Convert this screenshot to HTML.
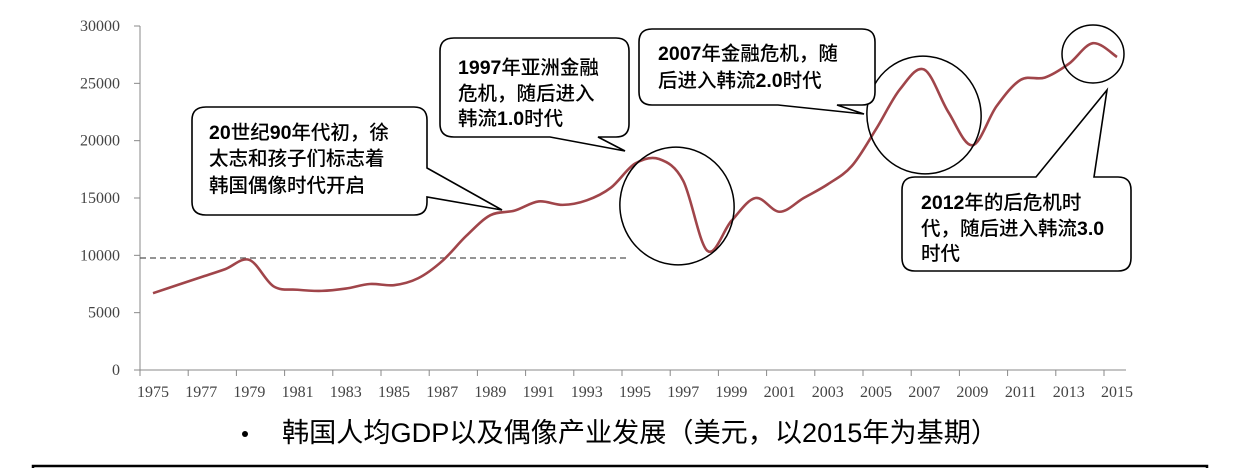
<!DOCTYPE html>
<html><head><meta charset="utf-8"><style>
html,body{margin:0;padding:0;background:#fff;width:1250px;height:468px;overflow:hidden}
svg{display:block}
.ax{font-family:"Liberation Serif",serif;font-size:16px;fill:#444}
.cb{font-family:"Liberation Sans","Noto Sans CJK SC",sans-serif;font-size:19.5px;font-weight:500;fill:#000}
.cb tspan{font-weight:bold}
</style></head><body>
<svg id="s" width="1250" height="468" viewBox="0 0 1250 468" xmlns="http://www.w3.org/2000/svg">
<g stroke="#888" stroke-width="1" fill="none">
<line x1="140" y1="26" x2="140" y2="370"/>
<line x1="140" y1="370" x2="1126" y2="370"/>
</g>
<g id="ticks" stroke="#888" stroke-width="1"></g>
<g class="ax" text-anchor="end" id="ylab"></g>
<g class="ax" text-anchor="middle" id="xlab"></g>
<line x1="140" y1="258" x2="630" y2="258" stroke="#555" stroke-width="1.2" stroke-dasharray="6,4"/>
<path id="line" fill="none" stroke="#A0454A" stroke-width="2.6"/>
<g fill="none" stroke="#000" stroke-width="1.5">
<ellipse cx="677" cy="206" rx="57" ry="59" transform="rotate(-15 677 206)"/>
<ellipse cx="924" cy="115" rx="57" ry="59" transform="rotate(-15 924 115)"/>
<ellipse cx="1093" cy="54" rx="31" ry="29"/>
</g>
<g fill="#fff" stroke="#000" stroke-width="1.6">
<path d="M206,107 H414 Q427,107 427,120 V168 L502,210 L427,197 V202 Q427,215 414,215 H206 Q192,215 192,202 V120 Q192,107 206,107 Z"/>
<path d="M454,38 H616 Q629,38 629,51 V124 Q629,137 616,137 H598 L625,151 L550,137 H454 Q440,137 440,124 V51 Q440,38 454,38 Z"/>
<path d="M652,29 H862 Q875,29 875,42 V92 Q875,105 862,105 H837 L864,114 L778,105 H652 Q639,105 639,92 V42 Q639,29 652,29 Z"/>
<path d="M915,177 H1036 L1107,90 L1094,177 H1118 Q1131,177 1131,190 V258 Q1131,271 1118,271 H915 Q902,271 902,258 V190 Q902,177 915,177 Z"/>
</g>
<g class="cb">
<text x="209" y="139"><tspan>20</tspan>世纪<tspan>90</tspan>年代初，徐</text>
<text x="209" y="165">太志和孩子们标志着</text>
<text x="209" y="192">韩国偶像时代开启</text>
<text x="458" y="74"><tspan>1997</tspan>年亚洲金融</text>
<text x="458" y="100">危机，随后进入</text>
<text x="458" y="125">韩流<tspan>1.0</tspan>时代</text>
<text x="658" y="60"><tspan>2007</tspan>年金融危机，随</text>
<text x="658" y="87">后进入韩流<tspan>2.0</tspan>时代</text>
<text x="921" y="209"><tspan>2012</tspan>年的后危机时</text>
<text x="921" y="235">代，随后进入韩流<tspan>3.0</tspan></text>
<text x="921" y="260">时代</text>
</g>
<circle cx="245" cy="434" r="3" fill="#000"/>
<text x="282" y="442" font-family="'Liberation Sans','Noto Sans CJK SC',sans-serif" font-size="27" textLength="716" lengthAdjust="spacingAndGlyphs">韩国人均GDP以及偶像产业发展（美元，以2015年为基期）</text>
<path d="M33,470 V466 H1207 V470" fill="none" stroke="#000" stroke-width="2.5"/>
</svg>
<script>
var NS="http://www.w3.org/2000/svg";
function Y(v){return 370-v*344/30000;}
function X(y){return 153+(y-1975)*24.1;}
var t=document.getElementById('ticks'),yl=document.getElementById('ylab'),xl=document.getElementById('xlab');
for(var v=0;v<=30000;v+=5000){var l=document.createElementNS(NS,'line');l.setAttribute('x1',134);l.setAttribute('x2',140);l.setAttribute('y1',Y(v));l.setAttribute('y2',Y(v));t.appendChild(l);
var tx=document.createElementNS(NS,'text');tx.setAttribute('x',120);tx.setAttribute('y',Y(v)+5);tx.textContent=v;yl.appendChild(tx);}
for(var k=0;k<=20;k++){var x=140+k*48.2;var l=document.createElementNS(NS,'line');l.setAttribute('x1',x);l.setAttribute('x2',x);l.setAttribute('y1',370);l.setAttribute('y2',376);t.appendChild(l);
var tx=document.createElementNS(NS,'text');tx.setAttribute('x',X(1975+2*k));tx.setAttribute('y',397);tx.textContent=1975+2*k;xl.appendChild(tx);}
var d=[6700,7400,8100,8800,9600,7300,7000,6900,7100,7500,7400,8000,9500,11700,13500,13900,14700,14400,14800,15900,18000,18400,16500,10400,13000,15000,13800,15000,16200,17800,21000,24500,26200,22500,19600,23000,25300,25500,26700,28500,27300];
var p=d.map(function(v,i){return [X(1975+i),Y(v)];});
var s="M"+p[0][0]+","+p[0][1];
for(var i=0;i<p.length-1;i++){var p0=p[Math.max(0,i-1)],p1=p[i],p2=p[i+1],p3=p[Math.min(p.length-1,i+2)];
s+=" C"+(p1[0]+(p2[0]-p0[0])/6)+","+(p1[1]+(p2[1]-p0[1])/6)+" "+(p2[0]-(p3[0]-p1[0])/6)+","+(p2[1]-(p3[1]-p1[1])/6)+" "+p2[0]+","+p2[1];}
document.getElementById('line').setAttribute('d',s);
</script>
</body></html>
